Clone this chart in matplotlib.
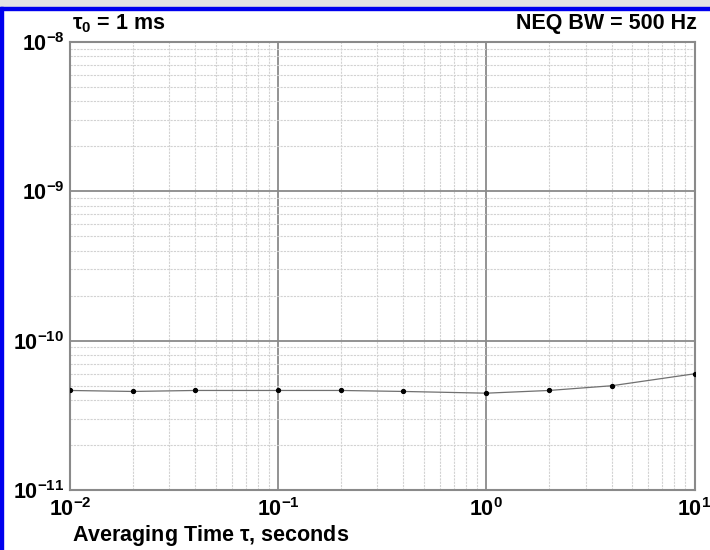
import numpy as np
import matplotlib.pyplot as plt
from matplotlib.patches import Rectangle
from matplotlib.ticker import LogLocator, FixedLocator, NullFormatter

# averaging time (s) and deviation values
tau = [0.01, 0.02, 0.04, 0.1, 0.2, 0.4, 1.0, 2.0, 4.0, 10.0]
dev = [4.64e-11, 4.57e-11, 4.64e-11, 4.64e-11, 4.64e-11, 4.57e-11, 4.45e-11, 4.64e-11, 4.99e-11, 6.0e-11]

x_ticks = [1e-2, 1e-1, 1e0, 1e1]
x_labels = [r'$\mathbf{10^{-2}}$', r'$\mathbf{10^{-1}}$', r'$\mathbf{10^{0}}$', r'$\mathbf{10^{1}}$']
y_ticks = [1e-11, 1e-10, 1e-9, 1e-8]
y_labels = [r'$\mathbf{10^{-11}}$', r'$\mathbf{10^{-10}}$', r'$\mathbf{10^{-9}}$', r'$\mathbf{10^{-8}}$']

plt.rcParams['font.family'] = ['Liberation Sans', 'DejaVu Sans']
plt.rcParams['mathtext.fontset'] = 'custom'
plt.rcParams['mathtext.rm'] = 'Liberation Sans'
plt.rcParams['mathtext.bf'] = 'Liberation Sans:bold'
plt.rcParams['mathtext.it'] = 'Liberation Sans:italic'

fig = plt.figure(figsize=(7.1, 5.5), dpi=100)
ax = fig.add_axes([70/710, 1 - 490/550, 624.5/710, 448/550])

ax.plot(tau, dev, c='#707070', lw=0.9, marker='o', ms=2.8, mfc='black', mec='black', zorder=3)

ax.set_xscale('log')
ax.set_yscale('log')
ax.set_xlim(1e-2, 1e1)
ax.set_ylim(1e-11, 1e-8)

ax.xaxis.set_major_locator(FixedLocator(x_ticks))
ax.set_xticklabels(x_labels)
ax.yaxis.set_major_locator(FixedLocator(y_ticks))
ax.set_yticklabels(y_labels)
ax.xaxis.set_minor_locator(LogLocator(base=10, subs=np.arange(2, 10)))
ax.yaxis.set_minor_locator(LogLocator(base=10, subs=np.arange(2, 10)))
ax.xaxis.set_minor_formatter(NullFormatter())
ax.yaxis.set_minor_formatter(NullFormatter())

ax.grid(which='major', color='#8a8a8a', lw=1.3, ls='-')
ax.grid(which='minor', color='#d2d2d2', lw=0.8, ls=(0, (2, 1)))
ax.tick_params(which='both', length=0, labelsize=15.5)
ax.tick_params(axis='x', pad=6)
ax.tick_params(axis='y', pad=4)
for s in ax.spines.values():
    s.set_color('#8a8a8a')
    s.set_linewidth(1.5)

fig.text(72/710, 1 - 24/550, r'$\mathbf{\tau_0}$ = 1 ms', fontsize=15.5, fontweight='bold', va='center')
fig.text(697/710, 1 - 24/550, 'NEQ BW = 500 Hz', fontsize=15.5, fontweight='bold', va='center', ha='right')
fig.text(72/710, 1 - 535/550, r'Averaging Time $\mathbf{\tau}$, seconds', fontsize=15.5, fontweight='bold', va='center')

# window frame decoration
fig.patches.append(Rectangle((0, 1 - 7/550), 1, 7/550, transform=fig.transFigure, color='#e4e4e4', zorder=0))
fig.patches.append(Rectangle((0, 1 - 10/550), 1, 3/550, transform=fig.transFigure, color='#0000ee', zorder=1))
fig.patches.append(Rectangle((0, 0), 3/710, 1 - 7/550, transform=fig.transFigure, color='#0000ee', zorder=1))

fig.savefig('out.png', dpi=100)
